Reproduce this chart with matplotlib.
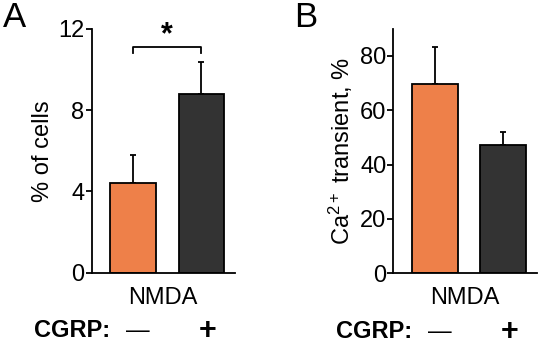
import matplotlib
matplotlib.use("Agg")
import matplotlib.pyplot as plt
import matplotlib.transforms as mtransforms

plt.rcParams['font.family'] = ['Liberation Sans', 'DejaVu Sans']
plt.rcParams['mathtext.fontset'] = 'custom'
plt.rcParams['mathtext.rm'] = 'Liberation Sans'
plt.rcParams['mathtext.it'] = 'Liberation Sans'

# data
cgrp_labels = ['\u2014', '+']
cells_mean = [4.43, 8.8]
cells_err = [1.35, 1.55]
ca_mean = [69.5, 47.3]
ca_err = [13.8, 4.6]
bar_colors = ['#EE8049', '#333333']

fig = plt.figure(figsize=(5.5, 3.48), dpi=100)
axA = fig.add_axes([0.1664, 0.2164, 0.2609, 0.7003])
axB = fig.add_axes([0.7151, 0.2147, 0.2607, 0.7031])


def draw_panel(ax, means, errs, ylim, yticks, ylabel, label_x):
    x = [0, 1]
    ax.bar(x, means, width=0.67, color=bar_colors, edgecolor='black', linewidth=1.3, zorder=2)
    ax.errorbar(x, means, yerr=[[0, 0], errs], fmt='none', ecolor='black',
                elinewidth=1.3, capsize=2.5, capthick=1.3, zorder=1)
    ax.set_xlim(-0.605, 1.49)
    ax.set_ylim(*ylim)
    ax.set_yticks(yticks)
    ax.set_xticks([])
    ax.spines['top'].set_visible(False)
    ax.spines['right'].set_visible(False)
    ax.spines['left'].set_linewidth(1.3)
    ax.spines['bottom'].set_linewidth(1.3)
    ax.tick_params(axis='y', direction='out', length=4, width=1.3, labelsize=17, pad=1)
    ax.set_ylabel(ylabel, fontsize=17)
    ax.yaxis.set_label_coords(label_x, 0.5)
    ax.set_xlabel('NMDA', fontsize=17, labelpad=10)
    trans = mtransforms.blended_transform_factory(ax.transData, ax.transAxes)
    ax.text(-0.33, -0.238, 'CGRP:', transform=trans, ha='right', va='center',
            fontsize=17, fontweight='bold')
    ax.text(0.07, -0.238, cgrp_labels[0], transform=trans, ha='center', va='center', fontsize=17)
    ax.text(1.09, -0.238, cgrp_labels[1], transform=trans, ha='center', va='center',
            fontsize=22, fontweight='bold')


draw_panel(axA, cells_mean, cells_err, (0, 12), [0, 4, 8, 12], '% of cells', -0.26)
draw_panel(axB, ca_mean, ca_err, (0, 90), [0, 20, 40, 60, 80], 'Ca$^{2+}$ transient, %', -0.27)

# significance bracket
axA.plot([0, 0, 1, 1], [10.83, 11.1, 11.1, 10.83], color='black', linewidth=1.3, clip_on=False)
axA.text(0.5, 10.95, '*', ha='center', va='bottom', fontsize=22, fontweight='bold')

fig.text(0.005, 0.95, 'A', fontsize=25, ha='left', va='center')
fig.text(0.535, 0.95, 'B', fontsize=25, ha='left', va='center')

fig.savefig('out.png', dpi=100)
